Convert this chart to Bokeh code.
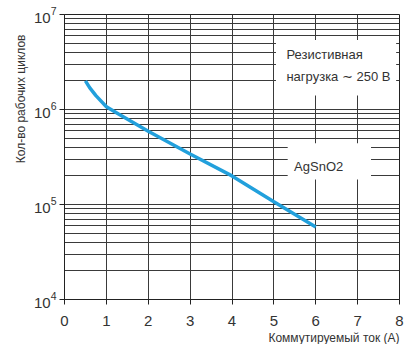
from bokeh.plotting import figure
from bokeh.models import (LogTicker, FixedTicker, Title, Label, BoxAnnotation, Range1d, Spacer)
from bokeh.layouts import row
from bokeh.embed import file_html
from bokeh.resources import INLINE

# data
current_a = [0.5, 0.6, 0.75, 1.0, 1.3, 2.0, 3.0, 4.0, 5.0, 6.0]
cycles = [2.0e6, 1.7e6, 1.4e6, 1.07e6, 8.9e5, 5.9e5, 3.4e5, 2.0e5, 1.07e5, 5.8e4]
x_ticks = [0, 1, 2, 3, 4, 5, 6, 7, 8]
y_label = "Кол-во рабочих циклов"
x_label = "Коммутируемый ток (A)"
note_load = ["Резистивная", "нагрузка \u223c 250 В"]
note_material = "AgSnO2"

FONT = "'Liberation Sans Narrow', 'Liberation Sans', Arial, sans-serif"

p = figure(frame_width=335, frame_height=285, y_axis_type="log",
           x_range=Range1d(0, 8), y_range=Range1d(1e4, 1e7),
           output_backend="svg", toolbar_location=None,
           min_border_left=10, min_border_right=6, min_border_top=14, min_border_bottom=5)

p.background_fill_color = "white"
p.outline_line_color = "#222222"

# grids
p.xaxis.ticker = FixedTicker(ticks=x_ticks)
p.yaxis.ticker = LogTicker(num_minor_ticks=10)
p.xgrid.grid_line_color = "#3a3a3a"
p.xgrid.grid_line_width = 1
p.ygrid.grid_line_color = "#3a3a3a"
p.ygrid.minor_grid_line_color = "#3a3a3a"
p.ygrid.grid_line_width = 1
p.ygrid.minor_grid_line_width = 1

for ax in (p.xaxis, p.yaxis):
    ax.axis_line_color = "#222222"
    ax.major_tick_line_color = "#222222"
    ax.major_tick_in = 0
    ax.major_tick_out = 5
    ax.minor_tick_line_color = None
    ax.major_label_text_font = FONT
    ax.major_label_text_font_size = "15px"
    ax.major_label_text_color = "#333333"
p.xaxis.major_label_standoff = 11
p.yaxis.major_label_standoff = 3

# white boxes for notes
p.add_layout(BoxAnnotation(left=5.05, right=7.92, bottom=1.4e6, top=5.4e6,
                           fill_color="white", fill_alpha=1.0, line_color=None, level="underlay"))
p.add_layout(BoxAnnotation(left=5.33, right=7.32, bottom=1.83e5, top=4.4e5,
                           fill_color="white", fill_alpha=1.0, line_color=None, level="underlay"))

p.line(current_a, cycles, line_color="#22a0dc", line_width=3.5)

for i, t in enumerate(note_load):
    p.add_layout(Label(x=5.3, y=[3.8e6, 2.23e6][i], text=t, text_font=FONT,
                       text_font_size="13px", text_color="#333333",
                       text_baseline="middle", text_align="left"))
p.add_layout(Label(x=6.07, y=2.5e5, text=note_material, text_font=FONT,
                   text_font_size="13px", text_color="#333333",
                   text_baseline="middle", text_align="center"))

p.add_layout(Title(text=y_label, align="right", text_font=FONT, text_font_size="12px",
                   text_font_style="normal", text_color="#333333", standoff=6, offset=20), "left")
p.add_layout(Title(text=x_label, align="right", text_font=FONT, text_font_size="12px",
                   text_font_style="normal", text_color="#333333", standoff=0), "below")

layout = row(Spacer(width=8, height=10), p)
open("out.html", "w").write(file_html(layout, INLINE))
